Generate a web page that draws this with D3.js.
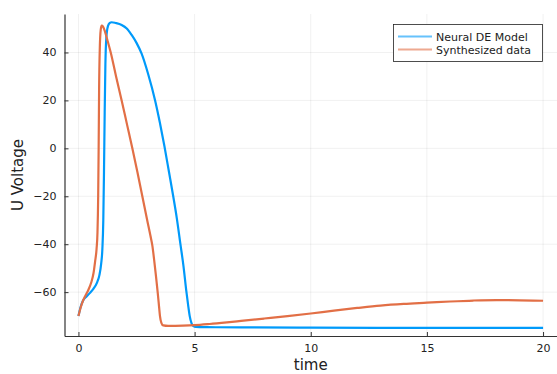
<!DOCTYPE html>
<html>
<head>
<meta charset="utf-8">
<script src="https://cdn.jsdelivr.net/npm/d3@7"></script>
<style>
  body { margin: 0; background: #fff; }
  text { font-family: "DejaVu Sans", sans-serif; fill: #222; }
</style>
</head>
<body>
<div id="chart"></div>
<script>
// series
const modelT = [0, 0.1, 0.2, 0.35, 0.5, 0.65, 0.8, 0.9, 0.98, 1.03, 1.07, 1.1, 1.13, 1.16, 1.2, 1.27, 1.35, 1.43, 1.6, 1.86, 2.08, 2.29, 2.5, 2.72, 3.0, 3.3, 3.5, 3.7, 3.9, 4.08, 4.24, 4.39, 4.52, 4.65, 4.73, 4.79, 4.87, 4.95, 5.05, 5.5, 7, 10, 15, 20];
const modelU = [-70, -66, -63.5, -61.8, -60.3, -58.5, -56, -53, -48, -42, -30, -10, 15, 35, 46, 51, 52.3, 52.6, 52.3, 51.5, 50, 47.3, 44, 39.5, 31, 20, 11, 1, -10, -20, -29.5, -40, -49, -60, -66, -70, -73, -74.2, -74.5, -74.6, -74.7, -74.8, -74.9, -74.9];

const dataT = [0, 0.1, 0.2, 0.3, 0.43, 0.55, 0.65, 0.72, 0.78, 0.82, 0.85, 0.87, 0.89, 0.92, 0.96, 1.0, 1.06, 1.15, 1.25, 1.39, 1.62, 1.86, 2.09, 2.32, 2.54, 2.75, 2.96, 3.1, 3.18, 3.26, 3.34, 3.41, 3.47, 3.51, 3.57, 3.65, 3.86, 4.5, 5, 5.65, 6.5, 7, 8, 9, 10, 11, 12, 13, 14, 15, 16, 17, 18, 19, 20];
const dataU = [-70, -66.3, -63.5, -61.5, -59, -56, -52, -47, -42, -35, -20, 0, 25, 42, 49.5, 51.2, 50.8, 48.5, 45, 40, 30, 20, 10, 0, -10, -20, -30, -36.5, -40.5, -46.6, -53.5, -60, -66, -70, -72.8, -73.9, -74.1, -74, -73.8, -73.3, -72.5, -72, -71, -70, -68.9, -67.7, -66.6, -65.6, -64.9, -64.4, -63.9, -63.5, -63.3, -63.4, -63.6];

const xTicks = [0, 5, 10, 15, 20];
const yTicks = [-60, -40, -20, 0, 20, 40];
const seriesNames = ["Neural DE Model", "Synthesized data"];
const seriesColors = ["#009AFA", "#E26F46"];

const width = 557, height = 374;
const margin = {top: 14, right: 0, bottom: 38, left: 64.5};

const svg = d3.select("#chart").append("svg")
  .attr("width", width)
  .attr("height", height);

const x = d3.scaleLinear().domain([-0.6, 20.6]).range([margin.left, width - margin.right]);
const y = d3.scaleLinear().domain([-78.3, 56.05]).range([height - margin.bottom, margin.top]);

// grid
svg.append("g").selectAll("line").data(xTicks).enter().append("line")
  .attr("x1", d => x(d)).attr("x2", d => x(d))
  .attr("y1", margin.top).attr("y2", height - margin.bottom)
  .attr("stroke", "#000").attr("stroke-opacity", 0.1).attr("stroke-width", 0.6);
svg.append("g").selectAll("line").data(yTicks).enter().append("line")
  .attr("x1", margin.left).attr("x2", width - margin.right)
  .attr("y1", d => y(d)).attr("y2", d => y(d))
  .attr("stroke", "#000").attr("stroke-opacity", 0.1).attr("stroke-width", 0.6);

// axes (ticks inward)
const xAxis = d3.axisBottom(x).tickValues(xTicks).tickSizeInner(-4).tickSizeOuter(0).tickPadding(8);
const yAxis = d3.axisLeft(y).tickValues(yTicks).tickSizeInner(-4).tickSizeOuter(0).tickPadding(8)
  .tickFormat(d => d < 0 ? "\u2212" + Math.abs(d) : d);

const gx = svg.append("g").attr("transform", `translate(0,${height - margin.bottom})`).call(xAxis);
const gy = svg.append("g").attr("transform", `translate(${margin.left},0)`).call(yAxis);
[gx, gy].forEach(g => {
  g.select(".domain").attr("stroke", "#333").attr("stroke-width", 1.2);
  g.selectAll(".tick line").attr("stroke", "#333").attr("stroke-width", 1);
  g.selectAll(".tick text").style("font-family", "DejaVu Sans, sans-serif").style("font-size", "11px").attr("fill", "#222");
});

// axis titles
svg.append("text").attr("x", (margin.left + width - margin.right) / 2).attr("y", 370)
  .attr("text-anchor", "middle").style("font-size", "15px").text("time");
svg.append("text").attr("transform", `translate(23,${(margin.top + height - margin.bottom) / 2}) rotate(-90)`)
  .attr("text-anchor", "middle").style("font-size", "15px").text("U Voltage");

// lines
const line = d3.line().x(d => x(d[0])).y(d => y(d[1])).curve(d3.curveMonotoneX);
const series = [d3.zip(modelT, modelU), d3.zip(dataT, dataU)];
svg.append("g").selectAll("path").data(series).enter().append("path")
  .attr("d", line)
  .attr("fill", "none")
  .attr("stroke", (d, i) => seriesColors[i])
  .attr("stroke-width", 2.2)
  .attr("stroke-linejoin", "round");

// legend
const lg = svg.append("g");
lg.append("rect").attr("x", 393.5).attr("y", 24.5).attr("width", 149).attr("height", 37)
  .attr("fill", "#fff").attr("stroke", "#222").attr("stroke-width", 0.8);
seriesNames.forEach((name, i) => {
  const yy = 36.5 + i * 13;
  lg.append("line").attr("x1", 398).attr("x2", 432).attr("y1", yy).attr("y2", yy)
    .attr("stroke", seriesColors[i]).attr("stroke-width", 2).attr("stroke-opacity", 0.6);
  lg.append("text").attr("x", 436).attr("y", yy + 4).style("font-size", "11px").text(name);
});
</script>
</body>
</html>
